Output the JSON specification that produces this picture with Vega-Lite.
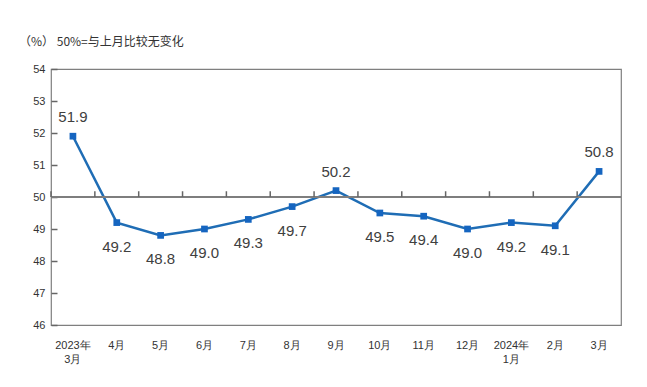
{
  "$schema": "https://vega.github.io/schema/vega-lite/v6.json",
  "width": 570,
  "height": 256,
  "autosize": {"type": "none"},
  "padding": {"left": 51, "top": 69, "right": 26, "bottom": 62},
  "background": "white",
  "title": {
    "text": "（%）  50%=与上月比较无变化",
    "anchor": "start",
    "frame": "group",
    "dx": -32,
    "offset": 14,
    "fontSize": 12,
    "fontWeight": "normal",
    "font": "Noto Sans CJK SC",
    "color": "#333333"
  },
  "config": {
    "view": {"stroke": "#7f7f7f", "strokeWidth": 1.2},
    "axis": {"labelFont": "Liberation Sans", "labelFontSize": 11, "labelColor": "#333333", "domainColor": "#7f7f7f", "tickColor": "#666666", "tickWidth": 1.5, "grid": false, "labelOverlap": false, "title": null},
    "axisY": {"tickCount": 8, "domain": false, "tickSize": -6, "labelPadding": 12},
    "axisX": {"labelAngle": 0, "domain": false, "ticks": false, "labelPadding": 14, "labelLineHeight": 14}
  },
  "data": {
    "values": [
      {"month": "2023年 3月", "v": 51.9},
      {"month": "4月", "v": 49.2},
      {"month": "5月", "v": 48.8},
      {"month": "6月", "v": 49.0},
      {"month": "7月", "v": 49.3},
      {"month": "8月", "v": 49.7},
      {"month": "9月", "v": 50.2},
      {"month": "10月", "v": 49.5},
      {"month": "11月", "v": 49.4},
      {"month": "12月", "v": 49.0},
      {"month": "2024年 1月", "v": 49.2},
      {"month": "2月", "v": 49.1},
      {"month": "3月", "v": 50.8}
    ]
  },
  "layer": [
    {
      "mark": {"type": "line", "color": "#1f6db5", "strokeWidth": 2.5, "interpolate": "linear"},
      "encoding": {
        "x": {"field": "month", "type": "nominal", "sort": null, "title": null,
          "scale": {"paddingInner": 0, "paddingOuter": 0},
          "axis": {"labelExpr": "split(datum.label, ' ')"}},
        "y": {"field": "v", "type": "quantitative", "title": null,
          "scale": {"domain": [46, 54], "nice": false, "zero": false}}
      }
    },
    {
      "mark": {"type": "rule", "color": "#7f7f7f", "strokeWidth": 1.2},
      "encoding": {"y": {"datum": 50, "type": "quantitative", "title": null}}
    },
    {
      "transform": [{"filter": "datum.v < 60"}],
      "mark": {"type": "rule", "color": "#666666", "strokeWidth": 1.5, "xOffset": -21.92},
      "encoding": {
        "x": {"field": "month", "type": "nominal", "sort": null, "title": null},
        "y": {"datum": 50, "type": "quantitative", "title": null},
        "y2": {"datum": 50.18}
      }
    },
    {
      "mark": {"type": "square", "color": "#1565c0", "size": 45, "opacity": 1, "filled": true},
      "encoding": {
        "x": {"field": "month", "type": "nominal", "sort": null, "title": null},
        "y": {"field": "v", "type": "quantitative", "title": null}
      }
    },
    {
      "transform": [{"filter": "datum.v > 50"}],
      "mark": {"type": "text", "baseline": "alphabetic", "dy": -14, "fontSize": 15, "font": "Liberation Sans", "color": "#404040"},
      "encoding": {
        "x": {"field": "month", "type": "nominal", "sort": null, "title": null},
        "y": {"field": "v", "type": "quantitative", "title": null},
        "text": {"field": "v", "type": "quantitative", "format": ".1f"}
      }
    },
    {
      "transform": [{"filter": "datum.v <= 50"}],
      "mark": {"type": "text", "baseline": "top", "dy": 17, "fontSize": 15, "font": "Liberation Sans", "color": "#404040"},
      "encoding": {
        "x": {"field": "month", "type": "nominal", "sort": null, "title": null},
        "y": {"field": "v", "type": "quantitative", "title": null},
        "text": {"field": "v", "type": "quantitative", "format": ".1f"}
      }
    }
  ]
}
